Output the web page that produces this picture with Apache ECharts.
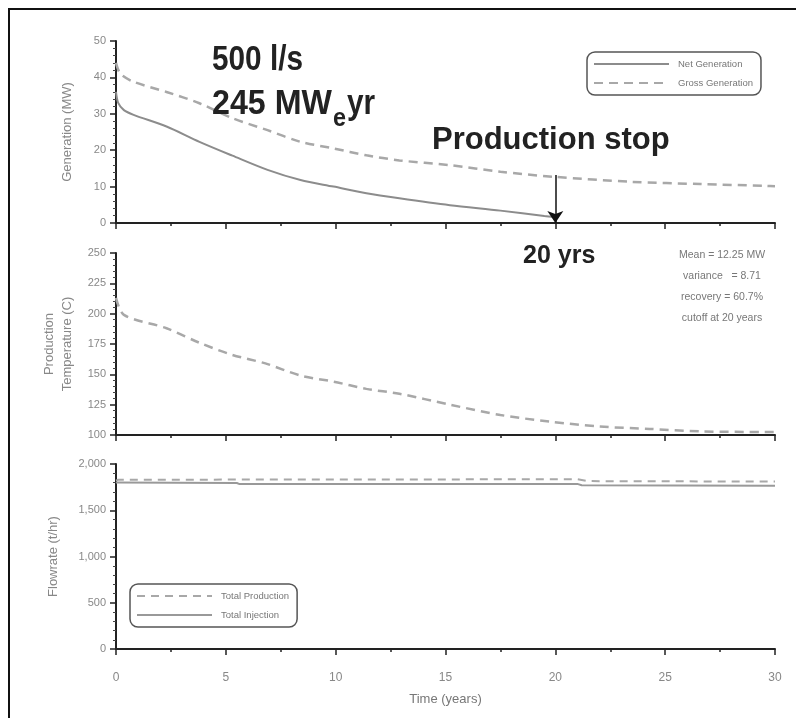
<!DOCTYPE html>
<html>
<head>
<meta charset="utf-8">
<script src="https://cdn.jsdelivr.net/npm/echarts@6/dist/echarts.min.js"></script>
<style>
  html, body { margin: 0; padding: 0; background: #fff; }
  #main { width: 796px; height: 718px; }
</style>
</head>
<body>
<div id="main"></div>
<script>
// time axis (years) and tick labels
var timeTicks = [0, 5, 10, 15, 20, 25, 30];

// generation panel (MW)
var netGenTime  = [0, 0.1, 0.36, 0.8, 2.3, 3.8, 5.3, 6.9, 8.4, 9.9, 11.4, 12.9, 15.2, 17.5, 19.5, 20];
var netGenValue = [36, 33, 31, 29.7, 26.5, 22.3, 18.5, 14.6, 11.8, 10, 8.2, 6.8, 4.9, 3.4, 1.9, 1.6];
var grossGenTime  = [0, 0.2, 0.8, 2.3, 3.8, 5.3, 6.9, 8.4, 9.9, 11.4, 12.9, 15.2, 17.5, 19.9, 23.5, 26.6, 29.6, 30];
var grossGenValue = [44, 41, 38.8, 36, 32.9, 28.8, 25.5, 22.3, 20.5, 18.6, 17.2, 15.9, 14.1, 12.7, 11.3, 10.7, 10.2, 10.1];

// production temperature panel (C)
var tempTime  = [0, 0.36, 2.3, 3.8, 5.3, 6.8, 8.4, 9.9, 11.4, 12.9, 15.2, 17.5, 19.75, 22, 24.3, 26.6, 29.6, 30];
var tempValue = [213, 199, 188, 176, 166, 159, 149, 144, 138, 134, 125, 116.5, 111, 107, 105, 103, 102.5, 102.5];

// flowrate panel (t/hr)
var prodTime  = [0, 0.1, 21, 21.5, 30];
var prodValue = [1820, 1830, 1835, 1815, 1810];
var injTime  = [0, 5.5, 5.6, 21, 21.2, 30];
var injValue = [1800, 1795, 1785, 1785, 1770, 1765];

// production stop marker
var stopYear = 20;
var stopFrom = 13.2;

function pairs(xs, ys) {
    return xs.map(function (x, i) { return [x, ys[i]]; });
}

var myChart = echarts.init(document.getElementById('main'));

var labelFont = 'Liberation Sans';
var axisColor = '#222';

function makeX(gridIndex, showLabel) {
    return {
        type: 'value', gridIndex: gridIndex, min: 0, max: 30, interval: 5,
        axisLine: { show: true, onZero: false, lineStyle: { color: axisColor, width: 2 } },
        axisTick: { show: true, length: 6, lineStyle: { color: axisColor, width: 1.5 } },
        minorTick: { show: true, splitNumber: 2, length: 3, lineStyle: { color: axisColor, width: 1.5 } },
        splitLine: { show: false },
        axisLabel: {
            show: showLabel, color: '#888', fontSize: 12, fontFamily: labelFont, margin: 23,
            formatter: function (v) { return timeTicks.indexOf(v) >= 0 ? String(v) : ''; }
        },
        name: showLabel ? 'Time (years)' : '',
        nameLocation: 'middle', nameGap: 44,
        nameTextStyle: { color: '#777', fontSize: 13, fontFamily: labelFont }
    };
}

function makeY(gridIndex, min, max, interval, name, gap, fmt) {
    return {
        type: 'value', gridIndex: gridIndex, min: min, max: max, interval: interval,
        axisLine: { show: true, lineStyle: { color: axisColor, width: 2 } },
        axisTick: { show: true, length: 6, lineStyle: { color: axisColor, width: 1.5 } },
        minorTick: { show: true, splitNumber: 5, length: 3, lineStyle: { color: '#444', width: 1 } },
        splitLine: { show: false },
        axisLabel: { color: '#888', fontSize: 11, fontFamily: labelFont, margin: 10, formatter: fmt },
        name: name, nameLocation: 'middle', nameGap: gap, nameRotate: 90,
        nameTextStyle: { color: '#888', fontSize: 13, fontFamily: labelFont, lineHeight: 18 }
    };
}

function bigText(str, x, y, size, scaleX) {
    return {
        type: 'text', x: x, y: y, scaleX: scaleX || 1, z: 100,
        style: {
            text: str, fill: '#222', fontSize: size, fontWeight: 'bold',
            fontFamily: 'Liberation Sans', verticalAlign: 'middle', align: 'left'
        }
    };
}

var legendCommon = {
    orient: 'vertical',
    itemWidth: 75, itemHeight: 12, itemGap: 9,
    borderColor: '#555', borderWidth: 1.5, borderRadius: 8,
    padding: [7, 8, 7, 6],
    itemStyle: { opacity: 0 },
    textStyle: { color: '#777', fontSize: 9.5, fontFamily: labelFont, padding: [0, 0, 0, 4] }
};

myChart.setOption({
    animation: false,
    backgroundColor: '#fff',
    grid: [
        { left: 116, top: 41, width: 659, height: 182 },
        { left: 116, top: 253, width: 659, height: 182 },
        { left: 116, top: 464, width: 659, height: 185 }
    ],
    xAxis: [makeX(0, false), makeX(1, false), makeX(2, true)],
    yAxis: [
        makeY(0, 0, 50, 10, 'Generation (MW)', 40),
        makeY(1, 100, 250, 25, 'Production\nTemperature (C)', 36),
        makeY(2, 0, 2000, 500, 'Flowrate (t/hr)', 54, function (v) { return v.toLocaleString('en-US'); })
    ],
    legend: [
        Object.assign({ left: 587, top: 52, data: ['Net Generation', 'Gross Generation'] }, legendCommon),
        Object.assign({ left: 130, top: 584, data: ['Total Production', 'Total Injection'] }, legendCommon)
    ],
    series: [
        {
            name: 'Net Generation', type: 'line', xAxisIndex: 0, yAxisIndex: 0,
            showSymbol: false, symbol: 'none', smooth: 0.3,
            lineStyle: { color: '#8c8c8c', width: 2 }, itemStyle: { color: '#8c8c8c' },
            data: pairs(netGenTime, netGenValue)
        },
        {
            name: 'Gross Generation', type: 'line', xAxisIndex: 0, yAxisIndex: 0,
            showSymbol: false, symbol: 'none', smooth: 0.3,
            lineStyle: { color: '#a8a8a8', width: 2.5, type: [9, 6] }, itemStyle: { color: '#a8a8a8' },
            data: pairs(grossGenTime, grossGenValue),
            markLine: {
                silent: true, symbol: ['none', 'arrow'], symbolSize: 12,
                label: { show: false },
                lineStyle: { color: '#111', width: 1.5, type: 'solid' },
                data: [[{ coord: [stopYear, stopFrom] }, { coord: [stopYear, 0] }]]
            }
        },
        {
            name: 'Production Temperature', type: 'line', xAxisIndex: 1, yAxisIndex: 1,
            showSymbol: false, symbol: 'none', smooth: 0.3,
            lineStyle: { color: '#a8a8a8', width: 2.5, type: [9, 6] },
            data: pairs(tempTime, tempValue)
        },
        {
            name: 'Total Production', type: 'line', xAxisIndex: 2, yAxisIndex: 2,
            showSymbol: false, symbol: 'none',
            lineStyle: { color: '#a8a8a8', width: 2, type: [8, 6] }, itemStyle: { color: '#a8a8a8' },
            data: pairs(prodTime, prodValue)
        },
        {
            name: 'Total Injection', type: 'line', xAxisIndex: 2, yAxisIndex: 2,
            showSymbol: false, symbol: 'none',
            lineStyle: { color: '#999', width: 2 }, itemStyle: { color: '#999' },
            data: pairs(injTime, injValue)
        }
    ],
    graphic: [
        { type: 'polyline', shape: { points: [[9, 718], [9, 9], [796, 9]] }, style: { stroke: '#111', lineWidth: 2, fill: null } },
        bigText('500 l/s', 212, 60, 35, 0.85),
        bigText('245 MW', 212, 104, 35, 0.92),
        bigText('e', 333, 119, 26, 0.9),
        bigText('yr', 347, 104, 35, 0.85),
        bigText('Production stop', 432, 140, 31),
        bigText('20 yrs', 523, 256, 25),
        {
            type: 'text', x: 722, y: 245, z: 100,
            style: {
                text: 'Mean = 12.25 MW\nvariance   = 8.71\nrecovery = 60.7%\ncutoff at 20 years',
                fill: '#777', fontSize: 10.5, fontFamily: labelFont, align: 'center', lineHeight: 21
            }
        }
    ]
});
</script>
</body>
</html>
